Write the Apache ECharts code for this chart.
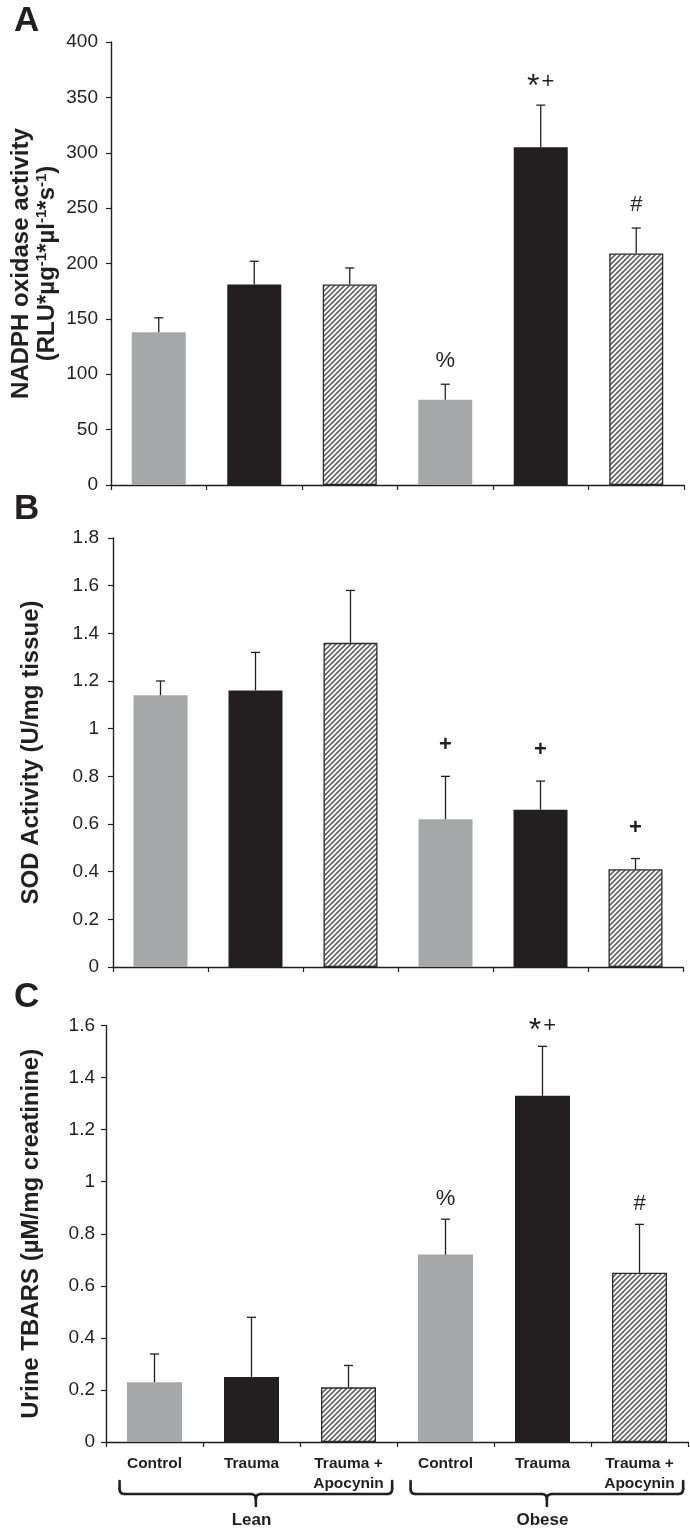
<!DOCTYPE html>
<html><head><meta charset="utf-8">
<script src="https://cdn.jsdelivr.net/npm/echarts@6/dist/echarts.min.js"></script>
<style>html,body{margin:0;padding:0;background:#fff}#c{width:690px;height:1533px}</style>
</head><body><div id="c"></div>
<script>
// ---------- data ----------
const categories = ['Control', 'Trauma', 'Trauma +\nApocynin', 'Control', 'Trauma', 'Trauma +\nApocynin'];
const groups = ['Lean', 'Obese'];

const nadphMean = [138, 181, 181, 77, 305, 209];
const nadphSem  = [13, 21, 15, 14, 38, 23];
const nadphMarks = ['', '', '', '%', '*+', '#'];

const sodMean = [1.14, 1.16, 1.36, 0.62, 0.66, 0.41];
const sodSem  = [0.06, 0.16, 0.22, 0.18, 0.12, 0.045];
const sodMarks = ['', '', '', '+', '+', '+'];

const tbarsMean = [0.23, 0.25, 0.21, 0.72, 1.33, 0.65];
const tbarsSem  = [0.108, 0.229, 0.084, 0.136, 0.19, 0.186];
const tbarsMarks = ['', '', '', '%', '*+', '#'];

const yTicksA = {min: 0, max: 400, interval: 50};
const yTicksB = {min: 0, max: 1.8, interval: 0.2};
const yTicksC = {min: 0, max: 1.6, interval: 0.2};

// ---------- styles ----------
const FONT = "'Liberation Sans', Arial, sans-serif";
const INK = '#231f20';
const GRAY = '#a6a7a9';

function hatchCanvas() {
  const s = 5, c = document.createElement('canvas');
  c.width = s; c.height = s;
  const g = c.getContext('2d');
  g.fillStyle = '#ffffff'; g.fillRect(0, 0, s, s);
  g.strokeStyle = '#666666'; g.lineWidth = 1.7;
  g.beginPath();
  g.moveTo(0, s); g.lineTo(s, 0);
  g.moveTo(-1, 1); g.lineTo(1, -1);
  g.moveTo(s - 1, s + 1); g.lineTo(s + 1, s - 1);
  g.stroke();
  return c;
}
const HATCH = {image: hatchCanvas(), repeat: 'repeat'};
const barStyles = [
  {color: GRAY},
  {color: INK},
  {color: HATCH, borderColor: '#2a2a2a', borderWidth: 1.3}
];

function barData(means) {
  return means.map((v, i) => ({value: v, itemStyle: barStyles[i % 3]}));
}

// annotation text: a large, lowered asterisk like the original figure
function markText(m) {
  return m.replace('*', '{a|*}').replace(/([+%#])/g, '{p|$1}');
}
function markRich(weight) {
  return {
    a: {fontSize: 32, fontFamily: FONT, fontWeight: 'normal', fill: INK, lineHeight: 30, padding: [10, 2, 0, 0]},
    p: {fontSize: 22, fontFamily: FONT, fontWeight: weight, fill: INK, lineHeight: 30}
  };
}

function errRender(marks, gap, markWeight) {
  return function (params, api) {
    const i = api.value(0);
    const base = api.coord([i, api.value(1)]);
    const top = api.coord([i, api.value(1) + api.value(2)]);
    const st = {stroke: INK, lineWidth: 1.3};
    const ch = [
      {type: 'line', shape: {x1: base[0], y1: base[1], x2: top[0], y2: top[1]}, style: st},
      {type: 'line', shape: {x1: top[0] - 4.5, y1: top[1], x2: top[0] + 4.5, y2: top[1]}, style: st}
    ];
    const m = marks[params.dataIndex];
    if (m) {
      ch.push({type: 'text', style: {
        text: markText(m), rich: markRich(markWeight),
        x: top[0], y: top[1] - gap, align: 'center', verticalAlign: 'middle',
        fontSize: 22, fontFamily: FONT, fontWeight: markWeight, fill: INK
      }});
    }
    return {type: 'group', children: ch};
  };
}

function errData(means, sems) {
  return means.map((v, i) => [i, v, sems[i]]);
}

function catAxis(gridIndex, showLabels) {
  return {
    type: 'category', gridIndex: gridIndex, data: categories,
    axisLine: {show: true, lineStyle: {color: INK, width: 1.4}},
    axisTick: {show: true, length: 5, interval: 0, lineStyle: {color: INK, width: 1.2}},
    axisLabel: showLabels ? {
      show: true, interval: 0, margin: 12, fontSize: 15.5, fontWeight: 'bold',
      fontFamily: FONT, color: INK, lineHeight: 20
    } : {show: false},
    splitLine: {show: false}
  };
}

function valAxis(gridIndex, ticks, name, nameGap, labelMargin, rich) {
  const ax = {
    type: 'value', gridIndex: gridIndex, min: ticks.min, max: ticks.max, interval: ticks.interval,
    name: name, nameLocation: 'middle', nameRotate: 90, nameGap: nameGap,
    nameMoveOverlap: false,
    nameTextStyle: {fontSize: 24, fontWeight: 'bold', fontFamily: FONT, color: INK, lineHeight: 26, align: 'center'},
    axisLine: {show: true, lineStyle: {color: INK, width: 1.4}},
    axisTick: {show: true, length: 5, lineStyle: {color: INK, width: 1.2}},
    axisLabel: {show: true, margin: labelMargin, fontSize: 19, fontFamily: FONT, color: INK},
    splitLine: {show: false}
  };
  if (rich) ax.nameTextStyle.rich = rich;
  return ax;
}

const nameRichA = {
  b: {fontSize: 24, fontWeight: 'bold', fontFamily: FONT, color: INK, lineHeight: 26},
  s: {fontSize: 15, fontWeight: 'bold', fontFamily: FONT, color: INK, lineHeight: 26, verticalAlign: 'top'}
};
const nameA = '{b|NADPH oxidase activity}\n{b|(RLU*µg}{s|-1}{b|*µl}{s|-1}{b|*s}{s|-1}{b|)}';

const chart = echarts.init(document.getElementById('c'), null, {renderer: 'canvas'});

const option = {
  backgroundColor: '#ffffff',
  animation: false,
  grid: [
    {left: 110, top: 42, width: 574, height: 443},
    {left: 113, top: 538, width: 570, height: 429},
    {left: 106, top: 1025.5, width: 582, height: 416.5}
  ],
  xAxis: [
    catAxis(0, false),
    catAxis(1, false),
    catAxis(2, true),
    {
      type: 'category', gridIndex: 2, data: groups, position: 'bottom', offset: 62,
      axisLine: {show: false}, axisTick: {show: false}, splitLine: {show: false},
      axisLabel: {show: true, interval: 0, margin: 8, fontSize: 17, fontWeight: 'bold', fontFamily: FONT, color: INK}
    }
  ],
  yAxis: [
    valAxis(0, yTicksA, nameA, 51, 13, nameRichA),
    valAxis(1, yTicksB, 'SOD Activity (U/mg tissue)', 69, 14),
    valAxis(2, yTicksC, 'Urine TBARS (µM/mg creatinine)', 62, 11)
  ],
  series: [
    {type: 'bar', xAxisIndex: 0, yAxisIndex: 0, barWidth: 54, data: barData(nadphMean), z: 2},
    {type: 'bar', xAxisIndex: 1, yAxisIndex: 1, barWidth: 54, data: barData(sodMean), z: 2},
    {type: 'bar', xAxisIndex: 2, yAxisIndex: 2, barWidth: 55, data: barData(tbarsMean), z: 2},
    {type: 'custom', xAxisIndex: 0, yAxisIndex: 0, data: errData(nadphMean, nadphSem),
      renderItem: errRender(nadphMarks, 23, 'normal'), clip: false, z: 3},
    {type: 'custom', xAxisIndex: 1, yAxisIndex: 1, data: errData(sodMean, sodSem),
      renderItem: errRender(sodMarks, 31, 'bold'), clip: false, z: 3},
    {type: 'custom', xAxisIndex: 2, yAxisIndex: 2, data: errData(tbarsMean, tbarsSem),
      renderItem: errRender(tbarsMarks, 20, 'normal'), clip: false, z: 3}
  ]
};
chart.setOption(option);

// ---------- panel letters and group braces ----------
function braceElements(x1, x2, yTop, yMid, yTip) {
  const xc = (x1 + x2) / 2, r = 5;
  const st = {stroke: INK, lineWidth: 2.6, fill: null, lineCap: 'round'};
  const L = (a, b, c, d) => ({type: 'line', silent: true, shape: {x1: a, y1: b, x2: c, y2: d}, style: st});
  const Q = (a, b, c, d, e, f) => ({type: 'bezierCurve', silent: true,
    shape: {x1: a, y1: b, x2: c, y2: d, cpx1: e, cpy1: f}, style: st});
  return [
    L(x1, yTop, x1, yMid - r),
    Q(x1, yMid - r, x1 + r, yMid, x1, yMid),
    L(x1 + r, yMid, xc - r, yMid),
    Q(xc - r, yMid, xc, yMid + r, xc, yMid),
    L(xc, yMid + r, xc, yTip),
    Q(xc, yMid + r, xc + r, yMid, xc, yMid),
    L(xc + r, yMid, x2 - r, yMid),
    Q(x2 - r, yMid, x2, yMid - r, x2, yMid),
    L(x2, yMid - r, x2, yTop)
  ];
}
const c0 = chart.convertToPixel({xAxisIndex: 2}, 0);
const c1 = chart.convertToPixel({xAxisIndex: 2}, 1);
const bw = c1 - c0;
const axisY = chart.convertToPixel({yAxisIndex: 2}, 0);
let graphics = [];
groups.forEach((g, gi) => {
  const left = chart.convertToPixel({xAxisIndex: 2}, gi * 3) - bw / 2 + 0.14 * bw;
  const right = chart.convertToPixel({xAxisIndex: 2}, gi * 3 + 2) + bw / 2 - 0.05 * bw;
  graphics = graphics.concat(braceElements(left, right, axisY + 39, axisY + 52, axisY + 64));
});
const letters = [['A', 21], ['B', 509], ['C', 997]];
letters.forEach(l => graphics.push({
  type: 'text', silent: true,
  style: {text: l[0], x: 14, y: l[1], align: 'left', verticalAlign: 'middle',
    fontSize: 35, fontWeight: 'bold', fontFamily: FONT, fill: INK}
}));
chart.setOption({graphic: graphics});
</script>
</body></html>
